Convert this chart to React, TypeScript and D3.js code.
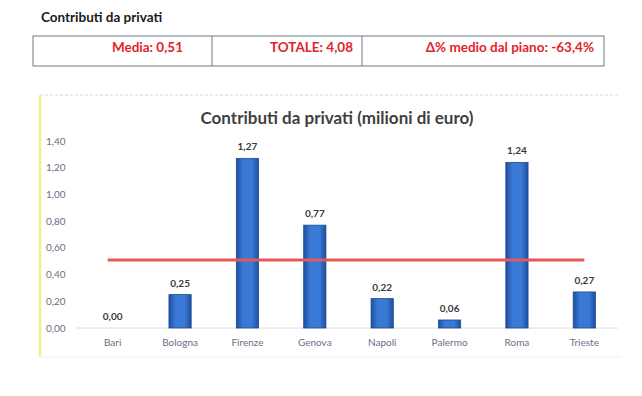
import React, { useEffect, useRef } from 'react';
import * as d3 from 'd3';

const cities = ['Bari', 'Bologna', 'Firenze', 'Genova', 'Napoli', 'Palermo', 'Roma', 'Trieste'];
const contributi = [0.0, 0.25, 1.27, 0.77, 0.22, 0.06, 1.24, 0.27];
const yTicks = [0, 0.2, 0.4, 0.6, 0.8, 1.0, 1.2, 1.4];
const media = 0.51;
const summaryCells = ['Media: 0,51', 'TOTALE: 4,08', 'Δ% medio dal piano: -63,4%'];

const fmt = (v: number) => v.toFixed(2).replace('.', ',');

const App = () => {
  const ref = useRef<SVGSVGElement | null>(null);

  useEffect(() => {
    if (!ref.current) return;
    const svg = d3.select(ref.current);
    svg.selectAll('*').remove();
    const font = 'Lato, "Noto Sans", sans-serif';

    svg.append('rect').attr('width', 642).attr('height', 396).attr('fill', '#ffffff');

    // page heading
    svg.append('text')
      .attr('x', 41).attr('y', 22)
      .attr('font-family', font).attr('font-size', 13.5).attr('font-weight', 700)
      .attr('fill', '#1a1a1a')
      .text('Contributi da privati');

    // summary table
    const cellEdges = [33, 212, 362, 604];
    svg.append('rect')
      .attr('x', cellEdges[0]).attr('y', 36)
      .attr('width', cellEdges[3] - cellEdges[0]).attr('height', 30)
      .attr('fill', 'none').attr('stroke', '#6b7a88').attr('stroke-width', 1);
    [cellEdges[1], cellEdges[2]].forEach(x => {
      svg.append('line').attr('x1', x).attr('x2', x).attr('y1', 36).attr('y2', 66)
        .attr('stroke', '#6b7a88').attr('stroke-width', 1);
    });
    const rightEnds = [183, 353, 594];
    summaryCells.forEach((t, i) => {
      svg.append('text')
        .attr('x', rightEnds[i]).attr('y', 52)
        .attr('text-anchor', 'end')
        .attr('font-family', font).attr('font-size', 13.5).attr('font-weight', 700)
        .attr('fill', '#e3232c')
        .text(t);
    });

    // chart frame
    svg.append('line').attr('x1', 40).attr('x2', 620).attr('y1', 95).attr('y2', 95)
      .attr('stroke', '#d8d8d8').attr('stroke-dasharray', '3,2');
    svg.append('line').attr('x1', 40).attr('x2', 40).attr('y1', 95).attr('y2', 357)
      .attr('stroke', '#eef08a').attr('stroke-width', 2.5);
    svg.append('line').attr('x1', 40).attr('x2', 620).attr('y1', 357).attr('y2', 357)
      .attr('stroke', '#eeeeee');

    svg.append('text')
      .attr('x', 337).attr('y', 124)
      .attr('text-anchor', 'middle')
      .attr('font-family', font).attr('font-size', 17).attr('font-weight', 700)
      .attr('fill', '#3f3f3f')
      .text('Contributi da privati (milioni di euro)');

    const x = d3.scaleBand().domain(cities).range([79, 618]).paddingInner(0.67).paddingOuter(0.335);
    const y = d3.scaleLinear().domain([0, 1.4]).range([328, 141]);

    const defs = svg.append('defs');
    const grad = defs.append('linearGradient').attr('id', 'barGrad')
      .attr('x1', '0%').attr('x2', '100%').attr('y1', '0%').attr('y2', '0%');
    grad.append('stop').attr('offset', '0%').attr('stop-color', '#1f4f9e');
    grad.append('stop').attr('offset', '30%').attr('stop-color', '#3a7ad6');
    grad.append('stop').attr('offset', '70%').attr('stop-color', '#3a7ad6');
    grad.append('stop').attr('offset', '100%').attr('stop-color', '#1f4f9e');

    // y axis labels
    svg.append('g').selectAll('text').data(yTicks).join('text')
      .attr('x', 46).attr('y', d => y(d) + 3.5)
      .attr('font-family', font).attr('font-size', 10)
      .attr('fill', '#6a6f86')
      .text(d => fmt(d));

    // baseline
    svg.append('line').attr('x1', 76).attr('x2', 618).attr('y1', y(0)).attr('y2', y(0))
      .attr('stroke', '#dcdcdc');

    // bars
    svg.append('g').selectAll('rect').data(contributi).join('rect')
      .attr('x', (d, i) => x(cities[i])!)
      .attr('y', d => y(d))
      .attr('width', x.bandwidth())
      .attr('height', d => y(0) - y(d))
      .attr('fill', 'url(#barGrad)')
      .attr('stroke', d => (d > 0 ? '#1c4a94' : 'none'))
      .attr('stroke-width', 0.8);

    // value labels
    svg.append('g').selectAll('text').data(contributi).join('text')
      .attr('x', (d, i) => x(cities[i])! + x.bandwidth() / 2)
      .attr('y', d => y(d) - 8)
      .attr('text-anchor', 'middle')
      .attr('font-family', font).attr('font-size', 10).attr('font-weight', 700)
      .attr('fill', '#3a3a3a')
      .text(d => fmt(d));

    // category labels
    svg.append('g').selectAll('text').data(cities).join('text')
      .attr('x', d => x(d)! + x.bandwidth() / 2)
      .attr('y', 346)
      .attr('text-anchor', 'middle')
      .attr('font-family', font).attr('font-size', 10)
      .attr('fill', '#6a6f86')
      .text(d => d);

    // average line
    const half = x.bandwidth() / 2;
    svg.append('line')
      .attr('x1', x(cities[0])! + half - 5)
      .attr('x2', x(cities[cities.length - 1])! + half)
      .attr('y1', y(media)).attr('y2', y(media))
      .attr('stroke', '#e4585a').attr('stroke-width', 3);
  }, []);

  return (
    <div style={{ position: 'absolute', left: 0, top: 0 }}>
      <svg ref={ref} width={642} height={396} style={{ display: 'block' }} />
    </div>
  );
};

export default App;
